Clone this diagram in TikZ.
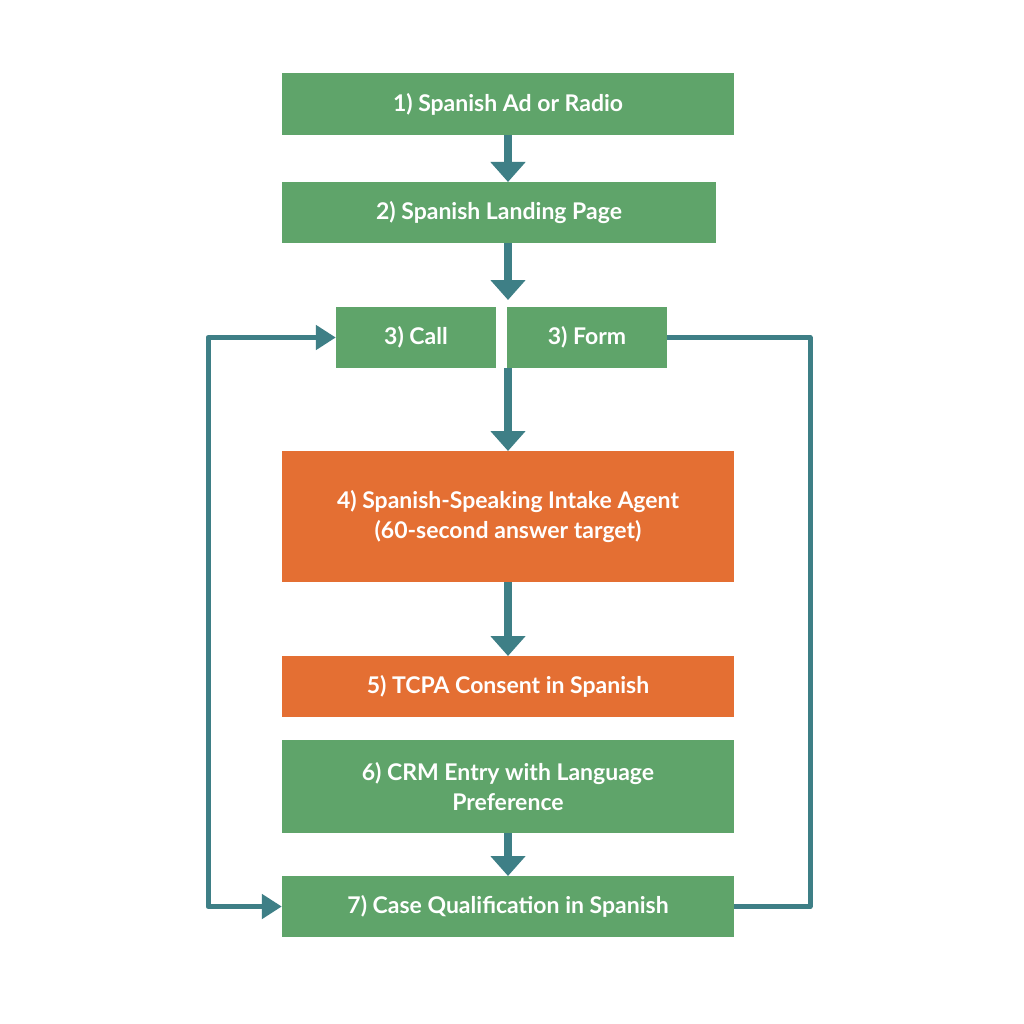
\documentclass[tikz,border=0pt]{standalone}
\usepackage{fontspec}
\setmainfont{Lato}
\usetikzlibrary{arrows.meta}
\definecolor{gr}{HTML}{5FA46A}
\definecolor{og}{HTML}{E46F33}
\definecolor{tl}{HTML}{3E7F86}
\begin{document}
\begin{tikzpicture}[x=1pt,y=-1pt,
 box/.style={fill=#1,draw=none,text=white,font=\fontsize{23}{30}\selectfont\bfseries,align=center,inner sep=0},
 arr/.style={draw=tl,line width=8pt,-{Triangle[length=20pt,width=34pt]}},
 loop/.style={draw=tl,line width=5pt,line join=round}]
\useasboundingbox (0,0) rectangle (1024,1024);
\fill[white] (0,0) rectangle (1024,1024);
\node[box=gr,minimum width=452pt,minimum height=62pt] (n1) at (508,104) {1) Spanish Ad or Radio};
\node[box=gr,minimum width=434pt,minimum height=61pt] (n2) at (499,212.5) {2) Spanish Landing Page};
\node[box=gr,minimum width=160pt,minimum height=61pt] (n3a) at (416,337.5) {3) Call};
\node[box=gr,minimum width=160pt,minimum height=61pt] (n3b) at (587,337.5) {3) Form};
\node[box=og,minimum width=452pt,minimum height=131pt] (n4) at (508,516.5) {4) Spanish-Speaking Intake Agent\\(60-second answer target)};
\node[box=og,minimum width=452pt,minimum height=61pt] (n5) at (508,686.5) {5) TCPA Consent in Spanish};
\node[box=gr,minimum width=452pt,minimum height=93pt] (n6) at (508,786.5) {6) CRM Entry with Language\\Preference};
\node[box=gr,minimum width=452pt,minimum height=61pt] (n7) at (508,906.5) {7) Case Qualification in Spanish};
\coordinate (m2) at (508,243);
\coordinate (m3) at (508,300);
\coordinate (f3) at (508,368);
\coordinate (t4) at (508,451);
\coordinate (b1) at (508,135);
\coordinate (t2) at (508,182);
\coordinate (b4) at (508,582);
\coordinate (t5) at (508,656);
\coordinate (b6) at (508,833);
\coordinate (t7) at (508,876);
\draw[arr] (b1) -- (t2);
\draw[arr] (m2) -- (m3);
\draw[arr] (f3) -- (t4);
\draw[arr] (b4) -- (t5);
\draw[arr] (b6) -- (t7);
\coordinate (L1) at (208,337.5);
\coordinate (L2) at (208,906.5);
\draw[loop,{Triangle[length=20pt,width=24pt]}-{Triangle[length=20pt,width=24pt]}] (n3a.west) -- (L1) -- (L2) -- (n7.west);
\coordinate (R1) at (810,337.5);
\coordinate (R2) at (810,906.5);
\draw[loop] (n3b.east) -- (R1) -- (R2) -- (n7.east);
\end{tikzpicture}
\end{document}
